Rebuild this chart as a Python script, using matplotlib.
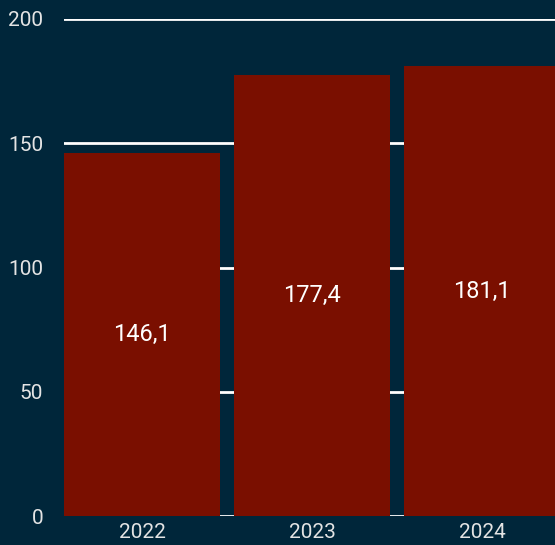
import matplotlib.pyplot as plt

years = ["2022", "2023", "2024"]
values = [146.1, 177.4, 181.1]
y_ticks = [0, 50, 100, 150, 200]

bg = "#00263a"
bar_color = "#7a0f00"
text_color = "#e4e4e4"

plt.rcParams["font.family"] = ["Roboto", "DejaVu Sans"]

fig = plt.figure(figsize=(5.55, 5.45), dpi=100, facecolor=bg)
ax = fig.add_axes([64 / 555, 29 / 545, 1 - 64 / 555, (516 - 19) / 545])
ax.set_facecolor(bg)

x = range(len(years))
ax.bar(x, values, width=0.92, color=bar_color, zorder=2)

for xi, v in zip(x, values):
    ax.text(xi, v / 2, f"{v:.1f}".replace(".", ","), ha="center", va="center",
            color="white", fontsize=17, zorder=3)

ax.set_xlim(-0.46, 2.43)
ax.set_ylim(0, 200)
ax.set_yticks(y_ticks)
ax.set_xticks(list(x))
ax.set_xticklabels(years)
ax.grid(axis="y", color="white", linewidth=2, zorder=1)
ax.tick_params(length=0, colors=text_color, labelsize=15)
ax.tick_params(axis="y", pad=15)
ax.tick_params(axis="x", pad=5)
for s in ax.spines.values():
    s.set_visible(False)

fig.savefig("out.png", dpi=100, facecolor=bg)
